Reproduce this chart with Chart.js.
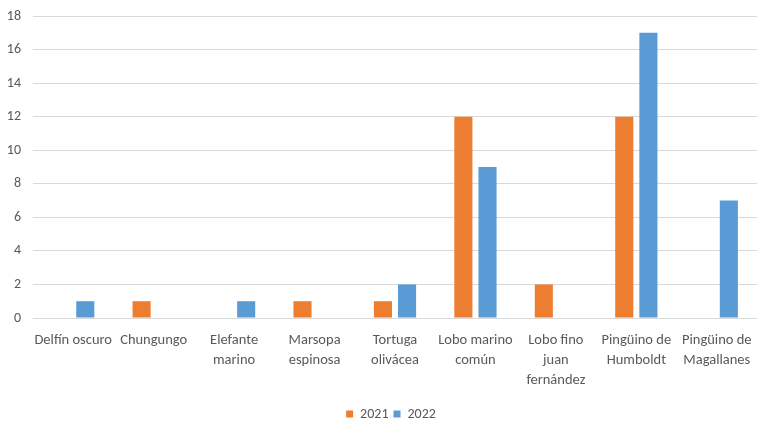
<!DOCTYPE html>
<html>
<head>
<meta charset="utf-8">
<script src="https://cdn.jsdelivr.net/npm/chart.js@4"></script>
<style>
  html, body { margin: 0; padding: 0; background: #ffffff; }
  #wrap { width: 757px; height: 425px; position: relative; }
</style>
</head>
<body>
<div id="wrap"><canvas id="c"></canvas></div>
<script>
const categories = [
  ["Delfín oscuro"],
  ["Chungungo"],
  ["Elefante", "marino"],
  ["Marsopa", "espinosa"],
  ["Tortuga", "olivácea"],
  ["Lobo marino", "común"],
  ["Lobo fino", "juan", "fernández"],
  ["Pingüino de", "Humboldt"],
  ["Pingüino de", "Magallanes"]
];
const series2021 = [0, 1, 0, 1, 1, 12, 2, 12, 0];
const series2022 = [1, 0, 1, 0, 2, 9, 0, 17, 7];
const seriesNames = ["2021", "2022"];
const yTicks = [0, 2, 4, 6, 8, 10, 12, 14, 16, 18];

const FONT = "Carlito, Lato, 'Open Sans', sans-serif";
const TXT = "#595959";

const legendShift = {
  id: 'legendShift',
  afterLayout(chart) {
    if (chart.legend) { chart.legend.left += 10; chart.legend.right += 10; }
  }
};

new Chart(document.getElementById('c'), {
  type: 'bar',
  data: {
    labels: categories,
    datasets: [
      { label: seriesNames[0], data: series2021, backgroundColor: '#ED7D31', borderWidth: 0,
        categoryPercentage: 0.6, barPercentage: 0.75 },
      { label: seriesNames[1], data: series2022, backgroundColor: '#5B9BD5', borderWidth: 0,
        categoryPercentage: 0.6, barPercentage: 0.75 }
    ]
  },
  plugins: [legendShift],
  options: {
    responsive: true,
    maintainAspectRatio: false,
    animation: false,
    devicePixelRatio: 1,
    layout: { padding: { top: 16, right: -5, left: 0, bottom: -6 } },
    plugins: {
      legend: {
        position: 'bottom',
        labels: {
          boxWidth: 7, boxHeight: 7, color: TXT,
          font: { family: FONT, size: 14 }, padding: 5
        }
      },
      tooltip: { enabled: false }
    },
    scales: {
      x: {
        grid: { display: false, drawTicks: false },
        border: { display: true, color: '#d9d9d9', width: 1 },
        ticks: {
          color: TXT, font: { family: FONT, size: 14.5, lineHeight: 1.4 },
          maxRotation: 0, autoSkip: false, padding: 12
        },
        afterFit: (s) => { s.height = 84; s.paddingLeft = 0; s.paddingRight = 0; }
      },
      y: {
        min: 0, max: 18,
        afterBuildTicks: (s) => { s.ticks = yTicks.map(v => ({ value: v })); },
        grid: { color: '#d9d9d9', lineWidth: 1, drawTicks: false },
        border: { display: false },
        ticks: {
          color: TXT, font: { family: FONT, size: 14 }, padding: 12
        },
        afterFit: (s) => { s.width = 33; s.paddingTop = 0; s.paddingBottom = 0; }
      }
    }
  }
});
</script>
</body>
</html>
